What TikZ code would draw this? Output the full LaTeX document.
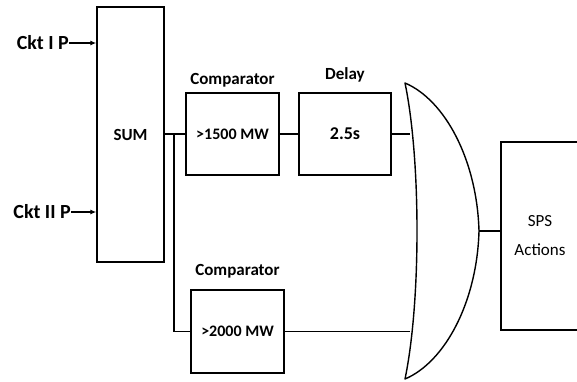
\documentclass[tikz,border=0pt]{standalone}
\usepackage{fontspec}
\setmainfont{Carlito}
\usetikzlibrary{positioning, arrows.meta}
\tikzset{
    block/.style={draw, line width=1.4pt, inner sep=0pt, font=\bfseries\fontsize{16}{19}\selectfont},
    caption/.style={inner sep=0pt, font=\bfseries\fontsize{17}{20}\selectfont},
    wire/.style={line width=1.4pt},
    feed/.style={line width=1.4pt, -{Latex[length=6pt, width=5pt]}},
    common settings/.style={x=1pt, y=-1pt}
}

\begin{document}
\begin{tikzpicture}[common settings]

    \path[use as bounding box, clip] (0,0) rectangle (577,381);

    % Blocks
    \node[block, minimum width=67pt, minimum height=255pt, font=\bfseries\fontsize{17}{20}\selectfont] (sum) at (130.5,134.5) {SUM};
    \node[block, minimum width=93pt, minimum height=82pt] (comp1) at (232.5,134) {>1500 MW};
    \node[block, minimum width=92pt, minimum height=82pt, font=\bfseries\fontsize{18}{21}\selectfont] (delay) at (345,134) {2.5s};
    \node[block, minimum width=93pt, minimum height=83pt] (comp2) at (237.5,331.5) {>2000 MW};
    \node[block, minimum width=78pt, minimum height=188pt, align=center, font=\fontsize{17}{29}\selectfont] (sps) at (540,236) {SPS\\Actions};

    % Captions
    \node[caption, above=5pt of comp1] (cap1) {Comparator};
    \node[caption, above=10pt of delay] (cap2) {Delay};
    \node[caption, above=11pt of comp2] (cap3) {Comparator};

    % Inputs
    \node[caption, anchor=east, font=\bfseries\fontsize{20}{23}\selectfont] (ckt1) at (69,43) {Ckt I P};
    \node[caption, anchor=east, font=\bfseries\fontsize{20}{23}\selectfont] (ckt2) at (71,212) {Ckt II P};
    \draw[feed] (ckt1.east) -- (ckt1.east -| sum.west);
    \draw[feed] (ckt2.east) -- (ckt2.east -| sum.west);

    % OR gate
    \draw[wire, line join=round] (405,83) .. controls (421,160) and (421,302) .. (405,379)
        .. controls (445,362) and (477,302) .. (479,231)
        .. controls (477,160) and (445,100) .. cycle;
    \coordinate (orin1) at (410,134);
    \coordinate (orin2) at (410,331.5);
    \coordinate (orout) at (479,231);

    % Wires
    \coordinate (split) at (174,134);
    \draw[wire] (sum.east |- split) -- (comp1.west);
    \draw[wire] (split) |- (comp2.west);
    \draw[wire] (comp1.east) -- (delay.west);
    \draw[wire] (delay.east) -- (orin1);
    \draw[wire] (comp2.east) -- (orin2);
    \draw[wire] (orout) -- (orout -| sps.west);

\end{tikzpicture}
\end{document}
